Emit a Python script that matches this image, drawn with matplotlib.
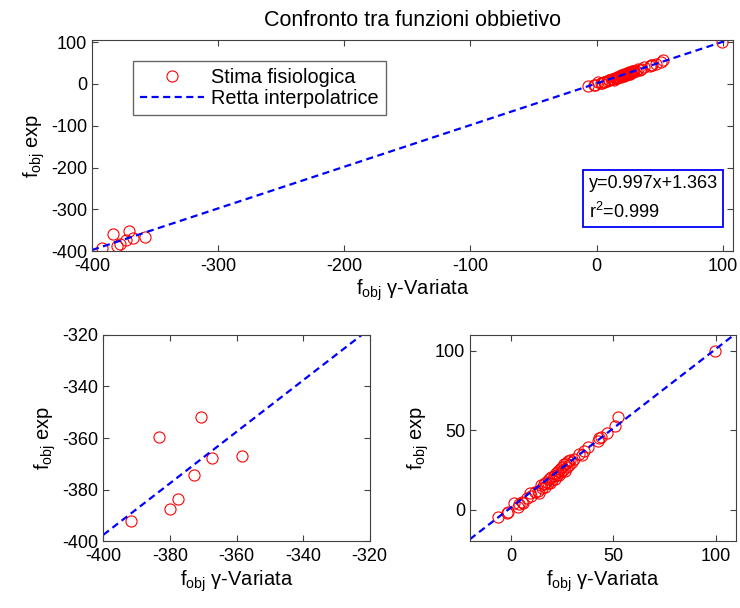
import numpy as np
import matplotlib.pyplot as plt

plt.rcParams['font.family'] = ['Liberation Sans', 'DejaVu Sans']
plt.rcParams['mathtext.fontset'] = 'custom'
plt.rcParams['mathtext.rm'] = 'Liberation Sans'
plt.rcParams['mathtext.it'] = 'Liberation Sans'
plt.rcParams['axes.unicode_minus'] = False

# gamma-variate estimate vs experimental objective function
neg_gamma = [-391.8, -383.3, -370.7, -367.4, -358.2, -372.9, -377.6, -380.1]
neg_exp = [-392.0, -359.4, -351.9, -367.5, -367.1, -374.2, -383.6, -387.5]

pos_gamma = [-6.5, -2.0, -1.5, 1.5, 3.5, 4.0, 5.5, 6.0, 8.0, 9.5, 10.0, 12.0,
             13.0, 13.5, 14.5, 15.0, 16.0, 16.5, 17.0, 18.0, 18.5, 19.0, 19.5,
             20.0, 21.0, 21.5, 22.0, 22.5, 23.0, 23.5, 24.0, 24.5, 25.0, 25.5,
             26.0, 26.5, 27.0, 27.5, 28.0, 28.5, 29.0, 30.0, 31.0, 33.0, 34.5,
             35.5, 37.5, 42.5, 43.0, 44.0, 47.0, 51.0, 52.5, 99.5]
pos_exp = [-4.6, -2.0, -1.5, 4.0, 2.0, 3.5, 5.0, 4.0, 7.5, 10.5, 8.5, 11.0,
           12.0, 10.5, 15.5, 13.5, 16.0, 14.0, 17.5, 16.5, 19.0, 17.0, 20.5,
           18.5, 21.0, 19.5, 23.0, 21.5, 24.5, 22.0, 25.5, 23.5, 27.0, 25.0,
           28.5, 24.5, 29.5, 27.0, 30.5, 28.0, 31.0, 30.0, 32.0, 35.0, 34.5,
           37.0, 39.5, 43.0, 45.0, 46.0, 48.5, 52.5, 58.5, 99.8]

slope = 0.997
intercept = 1.363
r2 = 0.999

x_all = neg_gamma + pos_gamma
y_all = neg_exp + pos_exp

xlabel = r'f$_{\mathrm{obj}}$ γ-Variata'
ylabel = r'f$_{\mathrm{obj}}$ exp'

fig = plt.figure(figsize=(7.4, 6.08), dpi=100)
ax1 = fig.add_axes([0.1243, 0.587, 0.866, 0.347])
ax2 = fig.add_axes([0.1396, 0.1094, 0.360, 0.340])
ax3 = fig.add_axes([0.635, 0.1094, 0.360, 0.340])


def style(ax):
    ax.tick_params(direction='in', top=True, right=True, length=4,
                   labelsize=13, color='#404040')
    ax.tick_params(axis='x', pad=5)
    for s in ax.spines.values():
        s.set_color('#404040')
    ax.set_xlabel(xlabel, fontsize=14.5, labelpad=2)
    ax.set_ylabel(ylabel, fontsize=14.5, labelpad=3)


def draw(ax, xs, ys):
    ax.plot(xs, ys, 'o', mfc='none', mec='red', ms=8, mew=0.8,
            label='Stima fisiologica')
    ax.axline((0, intercept), slope=slope, color='blue', lw=1.6,
              dashes=(3.2, 2), label='Retta interpolatrice')


draw(ax1, x_all, y_all)
ax1.set_xlim(-400, 108)
ax1.set_ylim(-400, 105)
ax1.set_xticks(np.arange(-400, 101, 100))
ax1.set_yticks(np.arange(-400, 101, 100))
style(ax1)
ax1.set_title('Confronto tra funzioni obbietivo', fontsize=15.5, pad=10)
ax1.legend(loc='upper left', bbox_to_anchor=(0.064, 0.9), fontsize=14.3,
           frameon=True, fancybox=False, edgecolor='#404040',
           borderpad=0.35, handlelength=3.2, handletextpad=0.4,
           labelspacing=0.1, borderaxespad=0)
ax1.text(0.775, 0.36, 'y=%.3fx+%.3f\nr$^2$=%.3f' % (slope, intercept, r2),
         transform=ax1.transAxes, fontsize=13, va='top', ha='left',
         linespacing=1.6,
         bbox=dict(boxstyle='square,pad=0.3', fc='white', ec='blue', lw=1.3))

draw(ax2, neg_gamma, neg_exp)
ax2.set_xlim(-400, -320)
ax2.set_ylim(-400, -320)
ax2.set_xticks(np.arange(-400, -319, 20))
ax2.set_yticks(np.arange(-400, -319, 20))
style(ax2)

draw(ax3, pos_gamma, pos_exp)
ax3.set_xlim(-20, 110)
ax3.set_ylim(-20, 110)
ax3.set_xticks([0, 50, 100])
ax3.set_yticks([0, 50, 100])
style(ax3)

plt.savefig('out.png', dpi=100)
